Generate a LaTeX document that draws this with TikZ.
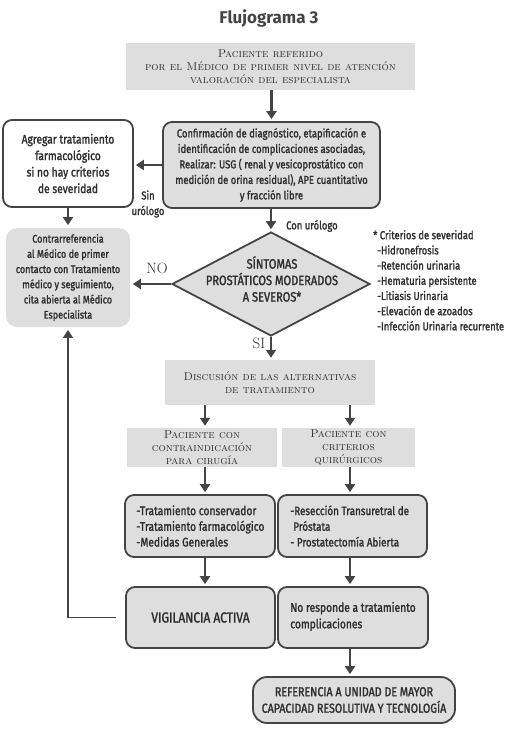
\documentclass[tikz,border=0pt]{standalone}
\usepackage{fontspec}
\usepackage{tikz}
\usetikzlibrary{arrows.meta, positioning, shapes.geometric}
\usepackage{xcolor}

\newfontfamily\cond[FakeStretch=0.82, FakeBold=1.6]{Fira Sans}
\newfontfamily\titfont{Fira Sans}

\definecolor{oscuro}{HTML}{444444}
\definecolor{grisclaro}{HTML}{DEDEDE}
\definecolor{texto}{HTML}{2E2E2E}

\newcommand{\tam}[2]{\cond\fontsize{#1}{#2}\selectfont}

\tikzset{
    flecha/.style={draw=oscuro, line width=2.2pt, -{Triangle[width=10pt,length=8pt]}, shorten >=2pt},
    cajagris/.style={fill=grisclaro, text=texto, align=center, inner sep=0pt,
        font=\fontsize{11.4}{12.8}\selectfont\scshape},
    cajaredonda/.style={draw=oscuro, line width=1.8pt, rounded corners=9pt, fill=grisclaro,
        text=texto, inner sep=0pt, font=\tam{11.5}{15.5}},
    etiqueta/.style={text=texto, inner sep=0pt, font=\tam{11.5}{15.5}},
}

\begin{document}
\begin{tikzpicture}[x=1pt, y=1pt]
            \useasboundingbox (0,0) rectangle (516,-733);

            \node[text=oscuro, font=\titfont\bfseries\fontsize{17}{20}\selectfont] (titulo) at (269,-18) {Flujograma 3};

            \node[cajagris, minimum width=289, minimum height=47] (paciente) at (270.5,-66.5)
                {Paciente referido\\por el Médico de primer nivel de atención\\valoración del especialista};

            \node[cajaredonda, align=center, minimum width=217, minimum height=86] (confirmacion) at (271.5,-165)
                {Confirmación de diagnóstico, etapificación e\\identificación de complicaciones asociadas,\\Realizar: USG ( renal y vesicoprostático con\\medición de orina residual), APE cuantitativo\\y fracción libre};

            \node[cajaredonda, fill=white, align=center, minimum width=130, minimum height=87,
                font=\tam{12.5}{16.5}] (agregar) at (68,-163.5)
                {Agregar tratamiento\\farmacológico\\si no hay criterios\\de severidad};

            \node[cajaredonda, draw=none, rounded corners=11pt, align=center, minimum width=124, minimum height=99,
                font=\tam{11}{15.2}] (contra) at (68,-277.5)
                {Contrarreferencia\\al Médico de primer\\contacto con Tratamiento\\médico y seguimiento,\\cita abierta al Médico\\Especialista};

            \node[diamond, draw=oscuro, line width=1.8pt, fill=grisclaro, inner sep=0pt,
                minimum width=198, minimum height=104] (sintomas) at (271,-284) {};
            \node[etiqueta, align=center, font=\tam{13.5}{16.5}] (sintomastxt) at (272,-279)
                {SÍNTOMAS\\PROSTÁTICOS MODERADOS\\A SEVEROS*};

            \node[etiqueta, align=left, anchor=north west, font=\tam{11.5}{15.2}] (criterios) at (373,-230)
                {* Criterios de severidad\\
                \hspace*{4pt}-Hidronefrosis\\
                \hspace*{4pt}-Retención urinaria\\
                \hspace*{4pt}-Hematuria persistente\\
                \hspace*{4pt}-Litiasis Urinaria\\
                \hspace*{4pt}-Elevación de azoados\\
                \hspace*{4pt}-Infección Urinaria recurrente};

            \node[cajagris, minimum width=210, minimum height=45] (discusion) at (270,-382.5)
                {Discusión de las alternativas\\de tratamiento};

            \node[cajagris, minimum width=150, minimum height=39] (contraind) at (202,-447.5)
                {Paciente con\\contraindicación\\para cirugía};
            \node[cajagris, minimum width=133, minimum height=39] (quirurgicos) at (348.5,-447.5)
                {Paciente con\\criterios\\quirúrgicos};

            \node[cajaredonda, minimum width=150, minimum height=62] (conservador) at (200,-526) {};
            \node[etiqueta, align=left, anchor=west, font=\tam{12.5}{15.7}] (conservadortxt) at ([xshift=12pt]conservador.west)
                {-Tratamiento conservador\\-Tratamiento farmacológico\\-Medidas Generales};
            \node[cajaredonda, minimum width=149, minimum height=62] (reseccion) at (352.5,-526) {};
            \node[etiqueta, align=left, anchor=west, font=\tam{12}{15.7}] (reseccionTxt) at ([xshift=13pt]reseccion.west)
                {-Resección Transuretral de\\\hspace*{3pt}Próstata\\- Prostatectomía Abierta};

            \node[cajaredonda, minimum width=149, minimum height=61, font=\tam{14.5}{16}] (vigilancia) at (200.5,-617.5)
                {VIGILANCIA ACTIVA};
            \node[cajaredonda, minimum width=150, minimum height=61] (noresponde) at (353,-617.5) {};
            \node[etiqueta, align=left, anchor=west, font=\tam{12.5}{16.5}] (norespondeTxt) at ([xshift=13pt,yshift=1pt]noresponde.west)
                {No responde a tratamiento\\complicaciones};

            \node[cajaredonda, align=center, rounded corners=14pt, minimum width=202, minimum height=46,
                font=\tam{13}{16.5}] (referencia) at (354,-700)
                {REFERENCIA A UNIDAD DE MAYOR\\CAPACIDAD RESOLUTIVA Y TECNOLOGÍA};

            \node[text=texto, inner sep=0pt, font=\fontsize{15}{15}\selectfont] (no) at (157,-268) {NO};
            \node[text=texto, inner sep=0pt, font=\fontsize{15}{15}\selectfont] (si) at (259,-343) {SI};
            \node[etiqueta, anchor=west] (conuro) at (286,-226) {Con urólogo};
            \node[etiqueta, align=center] (sinuro) at (148,-204) {Sin\\urólogo};

            \draw[flecha] (paciente.south -| confirmacion.north) -- (confirmacion.north);
            \draw[flecha] (confirmacion.west) -- (confirmacion.west -| agregar.east);
            \draw[flecha] (agregar.south) -- (contra.north);
            \draw[flecha] (confirmacion.south -| sintomas.north) -- (sintomas.north);
            \draw[flecha] (sintomas.west) -- (sintomas.west -| contra.east);
            \draw[flecha] (sintomas.south) -- (discusion.north -| sintomas.south);
            \draw[flecha] (discusion.south -| 205,0) -- (contraind.north -| 205,0);
            \draw[flecha] (discusion.south -| 350,0) -- (quirurgicos.north -| 350,0);
            \draw[flecha] (contraind.south -| 205,0) -- (conservador.north -| 205,0);
            \draw[flecha] (quirurgicos.south -| 350,0) -- (reseccion.north -| 350,0);
            \draw[flecha] (conservador.south -| 205,0) -- (vigilancia.north -| 205,0);
            \draw[flecha] (reseccion.south -| 350,0) -- (noresponde.north -| 350,0);
            \draw[flecha] (noresponde.south -| 350,0) -- (referencia.north -| 350,0);
            \draw[flecha, line width=1.8pt, shorten <=9pt] (vigilancia.west) -| (contra.south);
        \end{tikzpicture}
\end{document}
